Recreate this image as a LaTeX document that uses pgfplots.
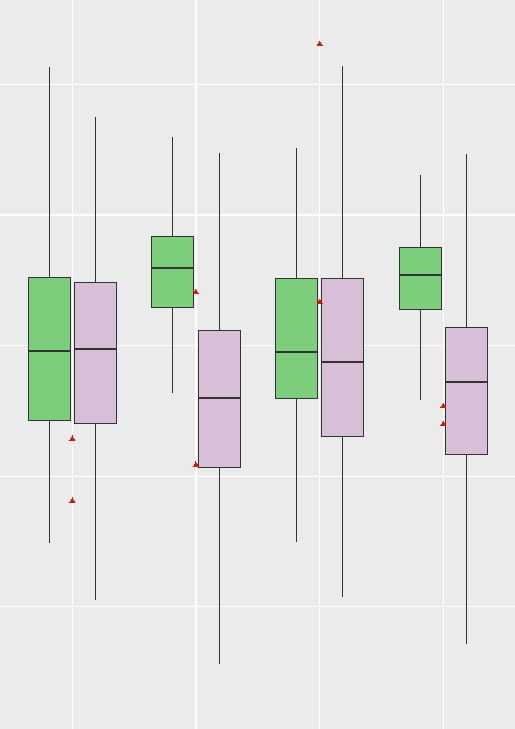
\documentclass[border=0pt]{standalone}
\usepackage{pgfplots}
\pgfplotsset{compat=1.18}
\usepgfplotslibrary{statistics}
\definecolor{panel}{RGB}{235,235,235}
\definecolor{boxgreen}{RGB}{124,206,124}
\definecolor{boxpurple}{RGB}{216,191,216}
\definecolor{edge}{RGB}{51,51,51}
\definecolor{outred}{RGB}{215,25,10}
\begin{document}
\begin{tikzpicture}
\begin{axis}[
  scale only axis, width=515bp, height=729bp,
  xmin=0.4154, xmax=4.580, ymin=-0.936, ymax=4.646,
  axis background/.style={fill=panel},
  axis line style={draw=none},
  xtick={1,2,3,4}, ytick={0,1,2,3,4},
  xticklabels={}, yticklabels={},
  major tick length=0pt,
  grid=major, major grid style={white, line width=1.1pt},
  boxplot/draw direction=y,
  boxplot/every box/.style={line width=0.8pt},
  boxplot/every whisker/.style={line width=0.8pt},
  boxplot/every median/.style={line width=1.8pt},
]
% group 1
\addplot[fill=boxgreen, draw=edge, boxplot prepared={draw position=0.813, lower whisker=0.489, lower quartile=1.428, median=1.961, upper quartile=2.523, upper whisker=4.133, box extend=0.34, whisker extend=0}] coordinates {};
\addplot[fill=boxpurple, draw=edge, boxplot prepared={draw position=1.187, lower whisker=0.052, lower quartile=1.405, median=1.976, upper quartile=2.485, upper whisker=3.750, box extend=0.34, whisker extend=0}] coordinates {};
% group 2
\addplot[fill=boxgreen, draw=edge, boxplot prepared={draw position=1.813, lower whisker=1.639, lower quartile=2.293, median=2.594, upper quartile=2.832, upper whisker=3.597, box extend=0.34, whisker extend=0}] coordinates {};
\addplot[fill=boxpurple, draw=edge, boxplot prepared={draw position=2.187, lower whisker=-0.438, lower quartile=1.068, median=1.601, upper quartile=2.117, upper whisker=3.475, box extend=0.34, whisker extend=0}] coordinates {};
% group 3
\addplot[fill=boxgreen, draw=edge, boxplot prepared={draw position=2.813, lower whisker=0.496, lower quartile=1.596, median=1.953, upper quartile=2.515, upper whisker=3.513, box extend=0.34, whisker extend=0}] coordinates {};
\addplot[fill=boxpurple, draw=edge, boxplot prepared={draw position=3.187, lower whisker=0.075, lower quartile=1.306, median=1.877, upper quartile=2.515, upper whisker=4.139, box extend=0.34, whisker extend=0}] coordinates {};
% group 4
\addplot[fill=boxgreen, draw=edge, boxplot prepared={draw position=3.813, lower whisker=1.586, lower quartile=2.278, median=2.541, upper quartile=2.753, upper whisker=3.306, box extend=0.34, whisker extend=0}] coordinates {};
\addplot[fill=boxpurple, draw=edge, boxplot prepared={draw position=4.187, lower whisker=-0.285, lower quartile=1.168, median=1.724, upper quartile=2.140, upper whisker=3.467, box extend=0.34, whisker extend=0}] coordinates {};
% outliers
\addplot[only marks, mark=triangle*, mark size=3pt, mark options={fill=outred, draw=outred, line width=0pt}] coordinates {
(1,1.285) (1,0.810) (2,2.408) (2,1.086) (3,4.309) (3,2.332) (4,1.535) (4,1.397)};
\end{axis}
\pgfresetboundingbox
\path (current axis.south west) rectangle (current axis.north east);
\end{tikzpicture}
\end{document}
